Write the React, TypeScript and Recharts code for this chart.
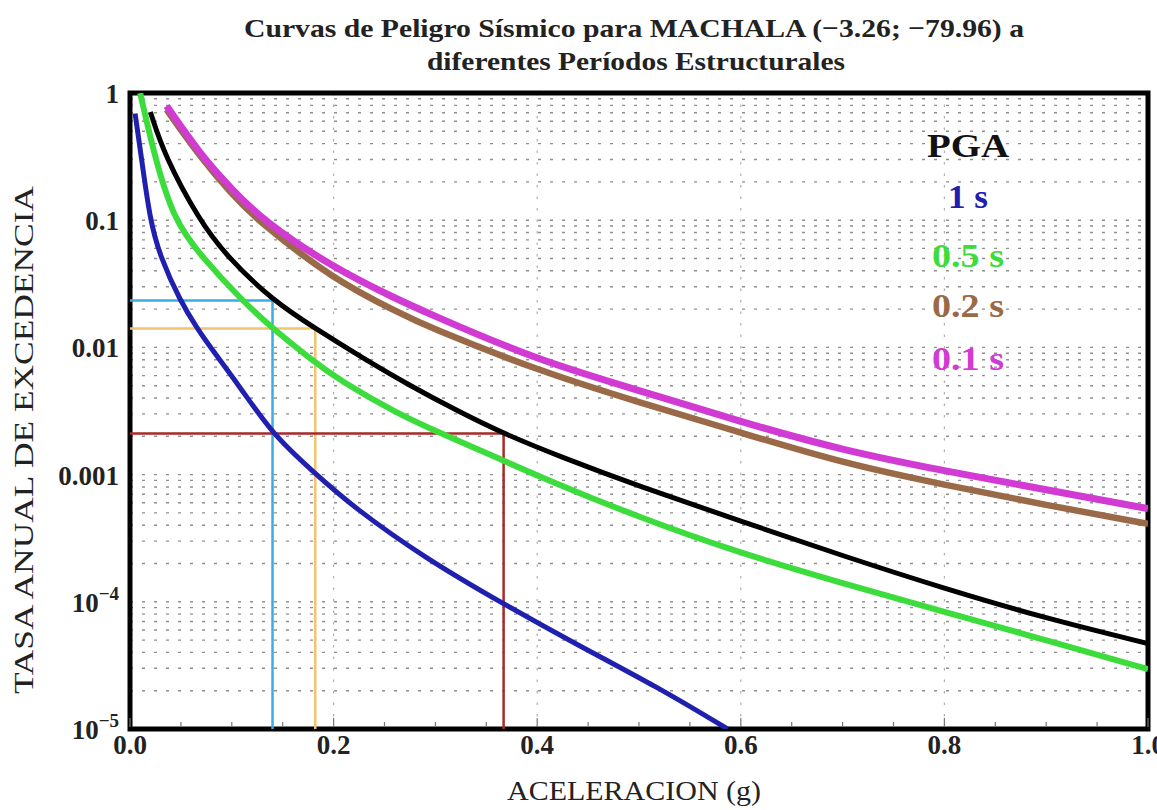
import React from 'react';
import { LineChart, Line, XAxis, YAxis, CartesianGrid, ReferenceArea } from 'recharts';

// ---------- data ----------
// PGA (black)
const pgaAccel = [0.02, 0.034, 0.068, 0.095, 0.14, 0.182, 0.226, 0.275, 0.324, 0.367, 0.422, 0.5, 0.6, 0.7, 0.8, 0.9, 1.0];
const pgaRate = [0.71, 0.32, 0.1, 0.052, 0.0234, 0.0141, 0.0085, 0.005, 0.0031, 0.0021, 0.00139, 8.1e-4, 4.3e-4, 2.3e-4, 1.27e-4, 7.4e-5, 4.7e-5];
// 1 s (blue)
const t1Accel = [0.005, 0.011, 0.0196, 0.0295, 0.049, 0.066, 0.079, 0.108, 0.14, 0.18, 0.22, 0.29, 0.368, 0.437, 0.52, 0.587];
const t1Rate = [0.69, 0.32, 0.1, 0.052, 0.0234, 0.0141, 0.01, 0.0049, 0.00207, 0.00105, 5.5e-4, 2.2e-4, 9.5e-5, 4.7e-5, 2.1e-5, 1.0e-5];
// 0.5 s (green)
const t05Accel = [0.01, 0.024, 0.043, 0.07, 0.11, 0.14, 0.18, 0.206, 0.263, 0.306, 0.367, 0.4, 0.5, 0.6, 0.7, 0.8, 0.9, 1.0];
const t05Rate = [1.0, 0.32, 0.1, 0.052, 0.0234, 0.0141, 0.0078, 0.0055, 0.003, 0.0021, 0.00129, 9.8e-4, 4.6e-4, 2.4e-4, 1.4e-4, 8.3e-5, 5.0e-5, 2.95e-5];
// 0.2 s (brown)
const t02Accel = [0.036, 0.068, 0.1, 0.125, 0.2, 0.265, 0.29, 0.4, 0.5, 0.6, 0.7, 0.8, 0.9, 1.0];
const t02Rate = [0.74, 0.32, 0.16, 0.1, 0.034, 0.0186, 0.0148, 0.0066, 0.0037, 0.00214, 0.00123, 8.3e-4, 5.75e-4, 4.1e-4];
// 0.1 s (magenta)
const t01Accel = [0.036, 0.07, 0.1, 0.13, 0.2, 0.265, 0.29, 0.4, 0.5, 0.6, 0.7, 0.8, 0.9, 1.0];
const t01Rate = [0.79, 0.32, 0.175, 0.1, 0.042, 0.0234, 0.019, 0.0079, 0.0046, 0.0026, 0.00155, 0.00107, 7.6e-4, 5.4e-4];

// design-level reference lines (return rate -> acceleration)
const refRates = [0.0234, 0.0141, 0.0021];
const refAccels = [0.14, 0.182, 0.367];
const refColors = ['#3aaee0', '#f2c46e', '#a82a2a'];

// axes
const xTicks = [0, 0.05, 0.1, 0.15, 0.2, 0.25, 0.3, 0.35, 0.4, 0.45, 0.5, 0.55, 0.6, 0.65, 0.7, 0.75, 0.8, 0.85, 0.9, 0.95, 1.0];
const xMajorLabels = ['0.0', '0.2', '0.4', '0.6', '0.8', '1.0'];
const yTicks = [1e-5, 1e-4, 1e-3, 1e-2, 1e-1, 1];
const yTickBase = ['10', '10', '0.001', '0.01', '0.1', '1'];
const yTickSup = ['\u22125', '\u22124', '', '', '', ''];
const gridDecades = [1e-5, 1e-4, 1e-3, 1e-2, 1e-1];
const gridMantissas = [1, 2, 3, 4, 5, 6, 7, 8, 9];
const vGridValues = [0.2, 0.4, 0.6, 0.8];

const titleLines = ['Curvas de Peligro S\u00edsmico para MACHALA (\u22123.26; \u221279.96) a', 'diferentes Per\u00edodos Estructurales'];
const xLabel = 'ACELERACION (g)';
const yLabel = 'TASA ANUAL DE EXCEDENCIA';
const legendLabels = ['PGA', '1 s', '0.5 s', '0.2 s', '0.1 s'];
const legendColors = ['#111111', '#2020b0', '#3cdc3c', '#9a6a48', '#d23ad4'];

// ---------- build ----------
const zip = (xs: number[], ys: number[]) => xs.map((x, i) => ({ x, y: ys[i] }));
const series = [
  { key: 'blue', data: zip(t1Accel, t1Rate), color: '#2020b0', width: 5 },
  { key: 'green', data: zip(t05Accel, t05Rate), color: '#3cdc3c', width: 6 },
  { key: 'black', data: zip(pgaAccel, pgaRate), color: '#000000', width: 5 },
  { key: 'brown', data: zip(t02Accel, t02Rate), color: '#9a6a48', width: 6.5 },
  { key: 'magenta', data: zip(t01Accel, t01Rate), color: '#d23ad4', width: 7 },
];
const refSeries = refRates.map((r, i) => ({
  key: 'ref' + i,
  color: refColors[i],
  data: [
    { x: 0, y: r },
    { x: refAccels[i], y: r },
    { x: refAccels[i], y: 1e-5 },
  ],
}));
const hGridValues = gridDecades.flatMap((d) => gridMantissas.map((m) => m * d));

const FONT = "'Liberation Serif', 'Times New Roman', serif";
const legendY = [157, 208, 267, 317, 370];
const legendW = [82, 40, 72, 72, 72];

const XTick = (props: any) => {
  const { x, y, payload } = props;
  const v = payload.value;
  const idx = xTicks.indexOf(v);
  const major = idx % 4 === 0;
  return (
    <g>
      <line x1={x} x2={x} y1={y - 2} y2={y - (major ? 11 : 7)} stroke="#777" strokeWidth={1.2} />
      {major && (
        <text x={x} y={y + 16} textAnchor="middle" dominantBaseline="central" fontFamily={FONT} fontWeight="bold" fontSize={27} fill="#222">
          {xMajorLabels[idx / 4]}
        </text>
      )}
    </g>
  );
};

const XTopTick = (props: any) => {
  const { x, y, payload } = props;
  const idx = xTicks.indexOf(payload.value);
  const major = idx % 4 === 0;
  return <line x1={x} x2={x} y1={y + 2} y2={y + (major ? 11 : 7)} stroke="#777" strokeWidth={1.2} />;
};

const YTick = (props: any) => {
  const { x, y, payload } = props;
  const i = yTicks.indexOf(payload.value);
  if (i < 0) return null;
  return (
    <text x={x - 11} y={y + 1} textAnchor="end" dominantBaseline="central" fontFamily={FONT} fontWeight="bold" fontSize={27} fill="#222">
      {yTickBase[i]}
      {yTickSup[i] && (
        <tspan dy={-10} fontSize={19}>
          {yTickSup[i]}
        </tspan>
      )}
    </text>
  );
};

export default function App() {
  return (
    <div style={{ position: 'absolute', left: 0, top: 0, width: 1157, height: 810, background: '#fff', overflow: 'hidden' }}>
      <LineChart width={1157} height={810} margin={{ top: 93, right: 9, bottom: 41, left: 70 }}>
        <CartesianGrid horizontal vertical={false} horizontalValues={hGridValues} stroke="#8f8f8f" strokeDasharray="3 9" strokeWidth={1.4} />
        <CartesianGrid horizontal={false} vertical verticalValues={vGridValues} stroke="#b0b0b0" strokeDasharray="2.5 9" strokeWidth={1.2} />
        <XAxis
          dataKey="x"
          type="number"
          domain={[0, 1]}
          ticks={xTicks}
          interval={0}
          allowDataOverflow
          tick={XTick}
          tickLine={false}
          axisLine={false}
          tickSize={0}
          tickMargin={0}
          height={40}
        />
        <XAxis
          xAxisId="top"
          orientation="top"
          dataKey="x"
          type="number"
          domain={[0, 1]}
          ticks={xTicks}
          interval={0}
          allowDataOverflow
          tick={XTopTick}
          tickLine={false}
          axisLine={false}
          tickSize={0}
          tickMargin={0}
          height={0}
        />
        <YAxis
          dataKey="y"
          type="number"
          scale="log"
          domain={[1e-5, 1]}
          ticks={yTicks}
          interval={0}
          allowDataOverflow
          tick={YTick}
          tickLine={false}
          axisLine={false}
          tickSize={0}
          tickMargin={0}
          width={60}
        />
        {refSeries.map((s) => (
          <Line key={s.key} data={s.data} dataKey="y" type="linear" stroke={s.color} strokeWidth={2.5} dot={false} isAnimationActive={false} />
        ))}
        {series.map((s) => (
          <Line key={s.key} data={s.data} dataKey="y" type="basis" stroke={s.color} strokeWidth={s.width} dot={false} isAnimationActive={false} strokeLinecap="butt" />
        ))}
        <ReferenceArea x1={0} x2={1} y1={1e-5} y2={1} fill="none" stroke="#000" strokeWidth={5} ifOverflow="visible" />
      </LineChart>
      <svg width={1157} height={810} style={{ position: 'absolute', left: 0, top: 0, pointerEvents: 'none' }}>
        <text x={634} y={37} textAnchor="middle" fontFamily={FONT} fontWeight="bold" fontSize={26} fill="#222" textLength={780} lengthAdjust="spacingAndGlyphs">
          {titleLines[0]}
        </text>
        <text x={636} y={70} textAnchor="middle" fontFamily={FONT} fontWeight="bold" fontSize={26} fill="#222" textLength={418} lengthAdjust="spacingAndGlyphs">
          {titleLines[1]}
        </text>
        <text x={634} y={800} textAnchor="middle" fontFamily={FONT} fontSize={27} fill="#222" textLength={254} lengthAdjust="spacingAndGlyphs">
          {xLabel}
        </text>
        <text x={0} y={0} transform="translate(33,440) rotate(-90)" textAnchor="middle" fontFamily={FONT} fontSize={28} fill="#222" textLength={508} lengthAdjust="spacingAndGlyphs">
          {yLabel}
        </text>
        {legendLabels.map((l, i) => (
          <text key={l} x={968} y={legendY[i]} textAnchor="middle" fontFamily={FONT} fontWeight="bold" fontSize={34} fill={legendColors[i]} textLength={legendW[i]} lengthAdjust="spacingAndGlyphs">
            {l}
          </text>
        ))}
      </svg>
    </div>
  );
}
